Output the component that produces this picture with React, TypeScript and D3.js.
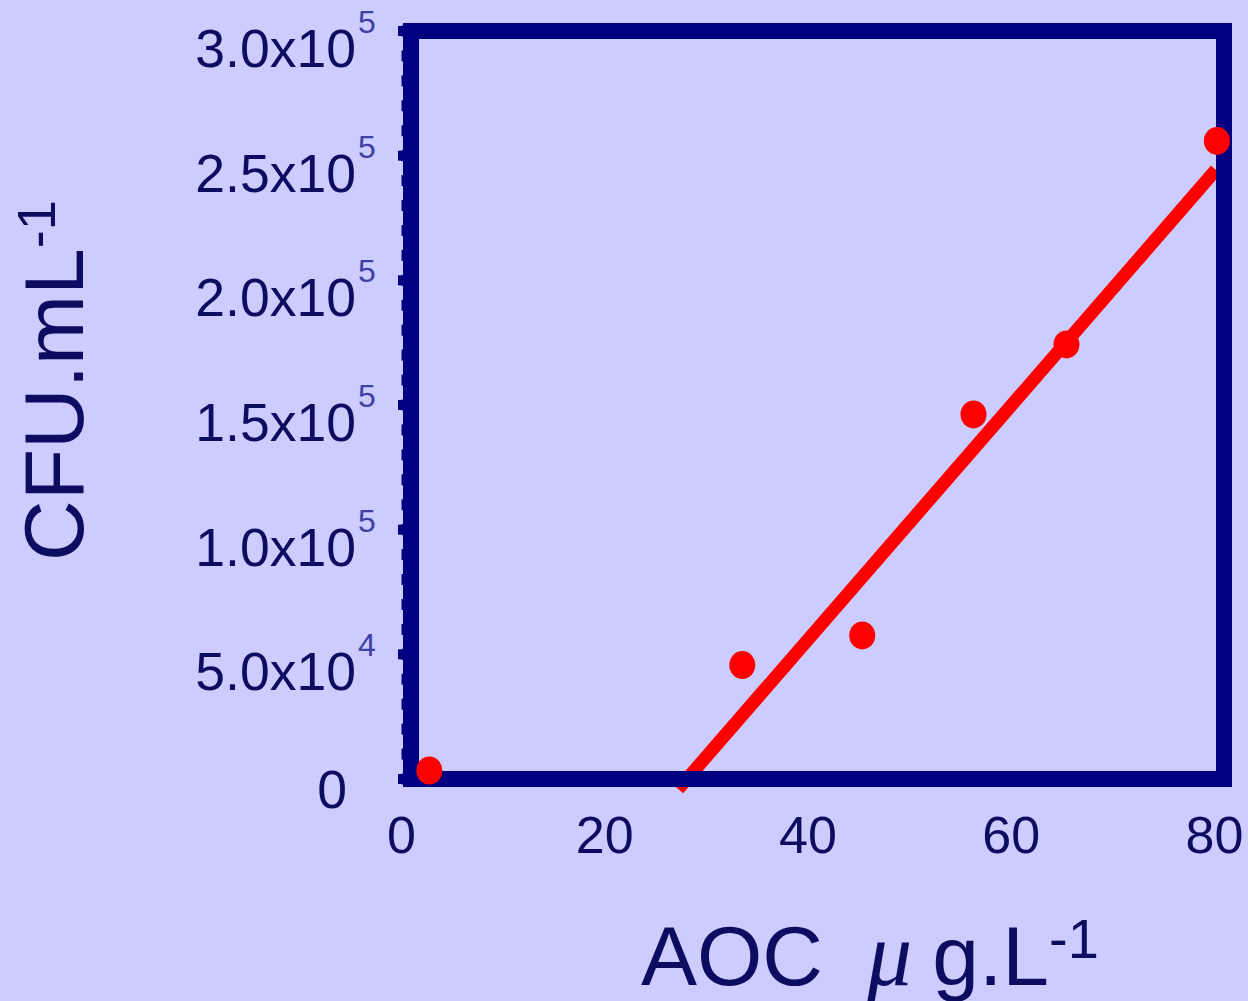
import React from "react";
import * as d3 from "d3";

const aocValues = [1.8, 32.6, 44.4, 55.35, 64.5, 79.3];
const cfuValues = [3400, 45700, 57600, 146200, 174300, 255900];
const fitX = [26.3, 79.2];
const fitY = [-4000, 244300];
const xTicks = [0, 20, 40, 60, 80];
const yTicks = [0, 50000, 100000, 150000, 200000, 250000, 300000];
const yTickMantissa = ["0", "5.0x10", "1.0x10", "1.5x10", "2.0x10", "2.5x10", "3.0x10"];
const yTickExponent = ["", "4", "5", "5", "5", "5", "5"];
const yMinorTicks = d3.range(0, 300001, 10000);

const W = 1248;
const H = 1001;
const BG = "#CCCCFF";
const NAVY = "#000080";
const TEXT = "#0c0c60";
const SUP = "#4040a4";
const RED = "#FF0000";
const FONT = "'Liberation Sans', Arial, sans-serif";

export default function App() {
  const x = d3.scaleLinear().domain([0, 80]).range([411, 1224]);
  const y = d3.scaleLinear().domain([0, 300000]).range([779, 31]);
  const fitLine = d3
    .line<number>()
    .x((d) => x(fitX[d]))
    .y((d) => y(fitY[d]))([0, 1]) as string;

  return (
    <svg
      width={W}
      height={H}
      style={{ position: "absolute", left: 0, top: 0, display: "block", background: BG }}
      fontFamily={FONT}
    >
      <rect x={0} y={0} width={W} height={H} fill={BG} />
      {/* regression line beneath frame */}
      <path d={fitLine} stroke={RED} strokeWidth={13} fill="none" />
      {/* minor ticks */}
      {yMinorTicks.map((t) => (
        <line key={"m" + t} x1={x(0) - 9.5} x2={x(0)} y1={y(t)} y2={y(t)} stroke={NAVY} strokeWidth={11} />
      ))}
      {/* major ticks */}
      {yTicks.map((t) => (
        <line key={"M" + t} x1={x(0) - 13} x2={x(0)} y1={y(t)} y2={y(t)} stroke={NAVY} strokeWidth={10} />
      ))}
      {/* frame */}
      <rect
        x={x(0)}
        y={y(300000)}
        width={x(80) - x(0)}
        height={y(0) - y(300000)}
        fill="none"
        stroke={NAVY}
        strokeWidth={16}
      />
      {/* points */}
      {aocValues.map((v, i) => (
        <ellipse key={"p" + i} cx={x(v)} cy={y(cfuValues[i])} rx={13} ry={14} fill={RED} />
      ))}
      {/* y tick labels */}
      {yTicks.map((t, i) => (
        <g key={"yl" + t}>
          <text
            x={yTickExponent[i] ? 356 : 347}
            y={y(t) + (yTickExponent[i] ? 36 : 29)}
            textAnchor="end"
            fontSize={53.5}
            fill={TEXT}
          >
            {yTickMantissa[i]}
          </text>
          {yTickExponent[i] && (
            <text x={358} y={y(t) + 2} fontSize={32} fill={SUP}>
              {yTickExponent[i]}
            </text>
          )}
        </g>
      ))}
      {/* x tick labels */}
      {xTicks.map((t) => (
        <text key={"xl" + t} x={x(t) - 9.5} y={853} textAnchor="middle" fontSize={52} fill={TEXT}>
          {t}
        </text>
      ))}
      {/* x title */}
      <text x={641} y={985} fontSize={84} fill={TEXT}>
        <tspan>AOC</tspan>
        <tspan dx={44} fontStyle="italic" fontFamily="'Liberation Serif', serif" fontSize={90}>μ</tspan>
        <tspan dx={20}>g.L</tspan>
        <tspan dy={-27} fontSize={56}>-1</tspan>
      </text>
      {/* y title */}
      <text transform="translate(83,561) rotate(-90)" fontSize={84} fill={TEXT}>
        <tspan>CFU.mL</tspan>
        <tspan dy={-28} fontSize={54}>-1</tspan>
      </text>
    </svg>
  );
}
